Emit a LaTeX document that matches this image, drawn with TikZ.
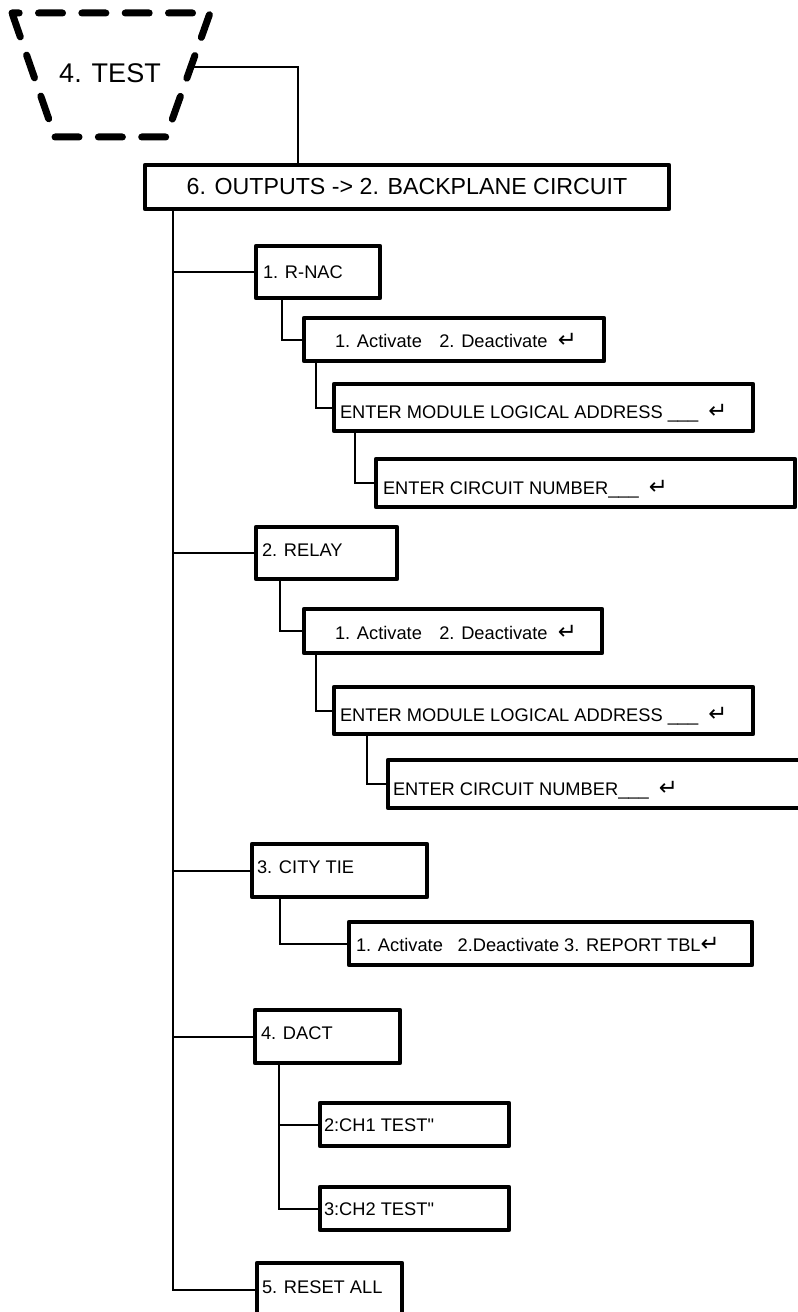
\documentclass[tikz,border=0pt]{standalone}
\usepackage{fontspec}
\setmainfont{Liberation Sans}
\newfontfamily\arrowfont{DejaVu Sans}
\newfontfamily\plainfont[Ligatures=TeXOff]{Liberation Sans}

% enter-key glyph, straight quote and text sizes
\newcommand\retkey{{\arrowfont\fontsize{17pt}{17pt}\selectfont ↵}}
\newcommand\dquote{{\plainfont "}}
\newcommand\boxfont{\fontsize{13.7pt}{16pt}\selectfont}

\tikzset{
  menubox/.style={draw, line width=3.4pt, line join=round, font=\boxfont,
    inner ysep=0pt, text depth=0pt, text height=9.8pt},
  % left-aligned text: #1 = left padding, #2 = box width
  ltext/.style 2 args={inner xsep=#1, minimum width=#2,
    execute at begin node={\hbox to \dimexpr #2-#1-#1\relax\bgroup},
    execute at end node={\hss\egroup}},
  wire/.style={line width=1.5pt},
  dashedborder/.style={line width=5.25pt, line cap=round, line join=round,
    dash pattern=on 18pt off 14.5pt, dash phase=12.6pt},
}

\begin{document}
\begin{tikzpicture}[x=0.75pt, y=-0.75pt]
\useasboundingbox (0,0) rectangle (798,1312);
\fill[white] (0,0) rectangle (798,1312);
\clip (0,0) rectangle (798,1312);

% top-level menu entry: dashed inverted trapezoid
\draw[dashedborder] (12,13) -- (210,13) -- (166,137) -- (55,137) -- cycle;
\node[font=\fontsize{20.25pt}{24pt}\selectfont, inner sep=0pt] (test) at (110,73) {4. TEST};
\coordinate (testedge) at (192,67);

\node[draw, line width=3.4pt, line join=round, minimum width=393pt,
      minimum height=33pt, inner sep=0pt,
      font=\fontsize{17.4pt}{20pt}\selectfont] (main) at (407,187)
      {6. OUTPUTS -> 2. BACKPLANE CIRCUIT};

% R-NAC branch
\node[menubox, ltext={5.25pt}{93pt}, minimum height=39pt] (rnac) at (318,272) {1. R-NAC};
\node[menubox, ltext={23.25pt}{225pt}, minimum height=32.25pt, text height=11.3pt] (act1) at (454,339.5)
  {1. Activate\hspace{13pt}2. Deactivate~~\retkey};
\node[menubox, ltext={4.5pt}{314.25pt}, minimum height=35.25pt, text height=16.6pt] (mod1) at (543.5,407.5)
  {ENTER MODULE LOGICAL ADDRESS \_\_\_~~\retkey};
\node[menubox, ltext={5.25pt}{314.25pt}, minimum height=36pt, text height=17.3pt] (circ1) at (585.5,483)
  {ENTER CIRCUIT NUMBER\_\_\_~~\retkey};

% relay branch
\node[menubox, ltext={4.5pt}{105.75pt}, minimum height=39pt, text height=5.3pt] (relay) at (326.5,553) {2. RELAY};
\node[menubox, ltext={23.25pt}{223.5pt}, minimum height=33pt, text height=12.8pt] (act2) at (453,631)
  {1. Activate\hspace{13pt}2. Deactivate~~\retkey};
\node[menubox, ltext={4.5pt}{314.25pt}, minimum height=35.25pt, text height=15.8pt] (mod2) at (543.5,710.5)
  {ENTER MODULE LOGICAL ADDRESS \_\_\_~~\retkey};
\node[menubox, ltext={3.75pt}{331.5pt}, minimum height=36pt, text height=17.3pt] (circ2) at (609,784)
  {ENTER CIRCUIT NUMBER\_\_\_~~\retkey};

% city tie branch
\node[menubox, ltext={3.75pt}{131.25pt}, minimum height=39.75pt, text height=4.55pt] (city) at (339.5,870.5) {3. CITY TIE};
\node[menubox, ltext={5.25pt}{302.25pt}, minimum height=32.25pt, text height=12.05pt] (report) at (550.5,943.5)
  {1. Activate\hspace{11pt}2.Deactivate 3. REPORT TBL\retkey};

% DACT branch
\node[menubox, ltext={4.5pt}{108.75pt}, minimum height=39.75pt, text height=4.55pt] (dact) at (327.5,1036.5) {4. DACT};
\node[menubox, ltext={3pt}{141.75pt}, minimum height=32.25pt] (ch1) at (414.5,1124.5) {2:CH1 TEST\dquote};
\node[menubox, ltext={3pt}{141.75pt}, minimum height=32.25pt] (ch2) at (414.5,1208.5) {3:CH2 TEST\dquote};

% reset
\node[menubox, ltext={3.75pt}{108.75pt}, minimum height=40.5pt, text height=5.3pt] (reset) at (329.5,1290) {5. RESET ALL};

% connectors
\coordinate (jog) at (298,67);
\coordinate (trunk) at (173,0);
\draw[wire] (testedge) -- (jog) -- (jog |- main.north);
\draw[wire] (main.south -| trunk) |- (reset.west);
\foreach \n in {rnac,relay,city,dact}
  \draw[wire] (trunk |- \n.west) -- (\n.west);

\draw[wire] ([xshift=21.2pt]rnac.south west) |- (act1.west);
\draw[wire] ([xshift=10.7pt]act1.south west) |- (mod1.west);
\draw[wire] ([xshift=17.45pt]mod1.south west) |- (circ1.west);

\draw[wire] ([xshift=19.7pt]relay.south west) |- (act2.west);
\draw[wire] ([xshift=10.7pt]act2.south west) |- (mod2.west);
\draw[wire] ([xshift=26.45pt]mod2.south west) |- (circ2.west);

\draw[wire] ([xshift=22.7pt]city.south west) |- (report.west);

\draw[wire] ([xshift=19.7pt]dact.south west) |- (ch1.west);
\draw[wire] ([xshift=19.7pt]dact.south west) |- (ch2.west);
\end{tikzpicture}
\end{document}
